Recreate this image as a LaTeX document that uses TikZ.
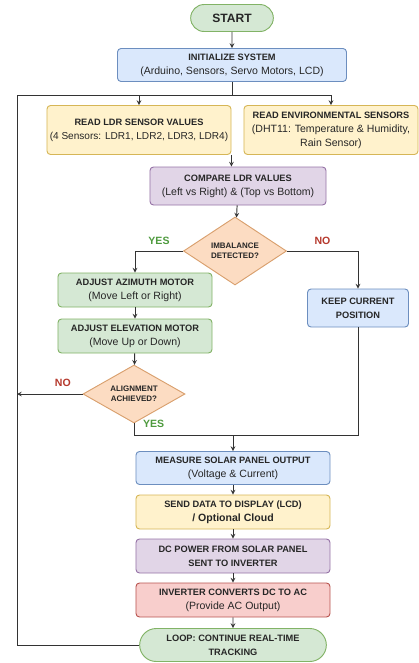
\documentclass[tikz,border=0pt]{standalone}
\usepackage{fontspec}
\setmainfont{Liberation Sans}
\usetikzlibrary{shapes.geometric,shapes.misc}
\definecolor{greenF}{HTML}{D5E8D4}\definecolor{greenD}{HTML}{82B366}
\definecolor{blueF}{HTML}{DAE8FC}\definecolor{blueD}{HTML}{6C8EBF}
\definecolor{yellowF}{HTML}{FFF2CC}\definecolor{yellowD}{HTML}{D6B656}
\definecolor{purpleF}{HTML}{E1D5E7}\definecolor{purpleD}{HTML}{9673A6}
\definecolor{orangeF}{HTML}{FCDCC2}\definecolor{orangeD}{HTML}{D9A06E}
\definecolor{redF}{HTML}{F8CECC}\definecolor{redD}{HTML}{B85450}
\definecolor{lineC}{HTML}{333333}
\definecolor{yesC}{HTML}{4E9A3E}\definecolor{noC}{HTML}{B5382C}
\newcommand{\hdtxt}{\fontsize{7.9}{10}\selectfont\bfseries}
\newcommand{\subtxt}{\fontsize{9}{11.5}\selectfont}
\tikzset{
  box/.style={rectangle, rounded corners=3pt, draw, line width=0.8pt, align=center,
    inner sep=1pt, text=black!85},
  bluebox/.style={box, fill=blueF, draw=blueD},
  greenbox/.style={box, fill=greenF, draw=greenD},
  yellowbox/.style={box, fill=yellowF, draw=yellowD},
  purplebox/.style={box, fill=purpleF, draw=purpleD},
  redbox/.style={box, fill=redF, draw=redD},
  termbox/.style={rounded rectangle, draw=greenD, fill=greenF, line width=0.8pt,
    align=center, inner sep=1pt, text=black!85},
  decbox/.style={diamond, aspect=1.5, draw=orangeD, fill=orangeF, line width=0.8pt,
    align=center, inner sep=0pt, text=black!85, font=\fontsize{6.8}{8.5}\selectfont\bfseries},
  flow/.style={draw=lineC, line width=0.8pt},
  yeslbl/.style={text=yesC, font=\fontsize{9}{10}\selectfont\bfseries},
  nolbl/.style={text=noC, font=\fontsize{9}{10}\selectfont\bfseries}
}
\begin{document}
\begin{tikzpicture}[x=0.03cm, y=-0.03cm, >=stealth]
\useasboundingbox (0,0) rectangle (419,663);
\node[termbox, minimum width=2.55cm, minimum height=0.81cm] (start) at (232,18)
  {\fontsize{10.3}{11}\selectfont\bfseries START};
\node[bluebox, minimum width=6.87cm, minimum height=0.99cm] (init) at (232,65)
  {{\hdtxt INITIALIZE SYSTEM}\\{\subtxt (Arduino, Sensors, Servo Motors, LCD)}};
\node[yellowbox, minimum width=5.52cm, minimum height=1.47cm] (ldr) at (139,130)
  {{\hdtxt READ LDR SENSOR VALUES}\\{\fontsize{8.6}{11.5}\selectfont (4 Sensors: LDR1, LDR2, LDR3, LDR4)}};
\node[yellowbox, minimum width=5.22cm, minimum height=1.47cm] (env) at (331,130)
  {{\hdtxt READ ENVIRONMENTAL SENSORS}\\{\subtxt (DHT11: Temperature \& Humidity,}\\{\subtxt Rain Sensor)}};
\node[purplebox, minimum width=5.28cm, minimum height=1.14cm] (cmp) at (238,186)
  {{\hdtxt COMPARE LDR VALUES}\\{\subtxt (Left vs Right) \& (Top vs Bottom)}};
\node[decbox, minimum width=3.09cm, minimum height=2.04cm] (imb) at (235,251)
  {IMBALANCE\\DETECTED?};
\node[greenbox, minimum width=4.62cm, minimum height=1.02cm] (azi) at (135,290)
  {{\hdtxt ADJUST AZIMUTH MOTOR}\\{\subtxt (Move Left or Right)}};
\node[bluebox, minimum width=3.03cm, minimum height=1.14cm] (keep) at (358,308)
  {\hdtxt KEEP CURRENT\\\hdtxt POSITION};
\node[greenbox, minimum width=4.62cm, minimum height=1.02cm] (elev) at (135,336)
  {{\hdtxt ADJUST ELEVATION MOTOR}\\{\subtxt (Move Up or Down)}};
\node[decbox, minimum width=3.06cm, minimum height=1.74cm] (aln) at (134,394)
  {ALIGNMENT\\ACHIEVED?};
\node[bluebox, minimum width=5.82cm, minimum height=0.99cm] (meas) at (233,468)
  {{\hdtxt MEASURE SOLAR PANEL OUTPUT}\\{\subtxt (Voltage \& Current)}};
\node[yellowbox, minimum width=5.82cm, minimum height=1.02cm] (send) at (233,512)
  {{\hdtxt SEND DATA TO DISPLAY (LCD)}\\{\subtxt\bfseries / Optional Cloud}};
\node[purplebox, minimum width=5.82cm, minimum height=1.02cm] (dcp) at (233,556)
  {\hdtxt DC POWER FROM SOLAR PANEL\\\hdtxt SENT TO INVERTER};
\node[redbox, minimum width=5.82cm, minimum height=1.02cm] (inv) at (233,600)
  {{\hdtxt INVERTER CONVERTS DC TO AC}\\{\subtxt (Provide AC Output)}};
\node[termbox, minimum width=5.67cm, minimum height=0.99cm] (loop) at (233,645)
  {\hdtxt LOOP: CONTINUE REAL-TIME\\\hdtxt TRACKING};
\coordinate (split) at (232,95);
\coordinate (fb) at (17,95);
\coordinate (mrg) at (233,435);
\draw[flow,->] (start) -- (init);
\draw[flow] (init.south) -- (split);
\draw[flow,->] (split) -| (ldr.north);
\draw[flow,->] (split) -| (env.north);
\draw[flow,->] (ldr.south east) -- (ldr.south east |- cmp.north);
\draw[flow,->] (cmp) -- (imb);
\draw[flow,->] (imb.west) -| node[yeslbl, pos=0.25, above=2pt] {YES} (azi.north);
\draw[flow,->] (imb.east) -| node[nolbl, pos=0.25, above=2pt] {NO} (keep.north);
\draw[flow,->] (azi) -- (elev);
\draw[flow,->] (elev) -- (aln);
\draw[flow,->] (aln.west) -- node[nolbl, pos=0.3, above=3pt] {NO} (aln.west -| fb);
\draw[flow] (aln.south) -- node[yeslbl, pos=0.05, right=4pt] {YES} (aln.south |- mrg) -- (mrg);
\draw[flow] (keep.south) |- (mrg);
\draw[flow,->] (mrg) -- (meas);
\draw[flow,->] (meas) -- (send);
\draw[flow,->] (send) -- (dcp);
\draw[flow,->] (dcp) -- (inv);
\draw[flow,->] (inv) -- (loop);
\draw[flow] (loop.west) -| (fb) -- (split -| ldr.north);
\end{tikzpicture}
\end{document}
